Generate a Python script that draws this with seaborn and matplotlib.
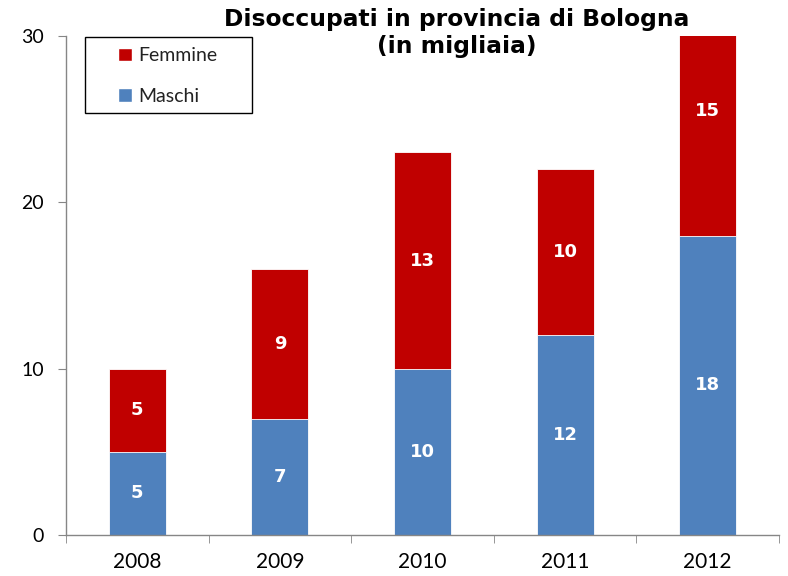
import pandas as pd
import seaborn as sns
import matplotlib.pyplot as plt
from matplotlib.patches import Patch, Rectangle
from matplotlib.ticker import FixedLocator

# Dati (migliaia)
anni = ["2008", "2009", "2010", "2011", "2012"]
maschi = [5, 7, 10, 12, 18]
femmine = [5, 9, 13, 10, 15]

COL_F = "#C00000"
COL_M = "#4F81BD"
GRID = "#868686"

df = pd.DataFrame({"anno": anni, "maschi": maschi, "femmine": femmine})
df["totale"] = df["maschi"] + df["femmine"]

sns.set_style("white")
plt.rcParams["font.family"] = ["Lato", "DejaVu Sans"]

fig = plt.figure(figsize=(7.88, 5.76), dpi=100)
ax = fig.add_axes([0.0838, 0.0712, 0.9048, 0.8663])

# stacked: totale in rosso dietro, maschi in blu davanti
sns.barplot(data=df, x="anno", y="totale", color=COL_F, saturation=1, width=0.4,
            edgecolor="white", linewidth=0.6, ax=ax)
sns.barplot(data=df, x="anno", y="maschi", color=COL_M, saturation=1, width=0.4,
            edgecolor="white", linewidth=0.6, ax=ax)

ax.set_ylim(0, 30)
ax.set_xlim(-0.5, len(anni) - 0.5)
ax.set_yticks([0, 10, 20, 30])
ax.set_xlabel("")
ax.set_ylabel("")

# etichette dei valori
for i, (m, f) in enumerate(zip(maschi, femmine)):
    ax.text(i, m / 2, str(m), ha="center", va="center", color="white",
            fontsize=13, fontweight="bold", family="DejaVu Sans")
    ax.text(i, m + f / 2, str(f), ha="center", va="center", color="white",
            fontsize=13, fontweight="bold", family="DejaVu Sans")

# assi stile excel
for side in ["top", "right"]:
    ax.spines[side].set_visible(False)
for side in ["left", "bottom"]:
    ax.spines[side].set_color(GRID)
    ax.spines[side].set_linewidth(1)
ax.tick_params(axis="x", which="major", length=0, labelsize=15, pad=12, labelcolor="black")
ax.xaxis.set_minor_locator(FixedLocator([i - 0.5 for i in range(len(anni) + 1)]))
ax.tick_params(axis="x", which="minor", length=6, color=GRID, direction="out", bottom=True)
ax.tick_params(axis="y", length=6, color=GRID, direction="out", labelsize=14, pad=10,
               left=True, labelcolor="black")

fig.text(0.579, 0.986, "Disoccupati in provincia di Bologna\n(in migliaia)", ha="center",
         va="top", fontsize=16.8, fontweight="bold", family="DejaVu Sans", linespacing=1.2,
         color="black")

# riquadro della legenda
ax.add_patch(Rectangle((0.0266, 0.846), 0.2344, 0.152, transform=ax.transAxes,
                       facecolor="white", edgecolor="black", linewidth=1, zorder=5))
handles = [Patch(facecolor=COL_F, label="Femmine"), Patch(facecolor=COL_M, label="Maschi")]
leg = ax.legend(handles=handles, loc="upper left", bbox_to_anchor=(0.073, 0.977),
                borderaxespad=0, borderpad=0, frameon=False, fontsize=14,
                handlelength=0.7, handleheight=0.7, labelspacing=1.2,
                handletextpad=0.35)
leg.set_zorder(6)
for t in leg.get_texts():
    t.set_color("#222222")

fig.savefig("out.png", dpi=100)
